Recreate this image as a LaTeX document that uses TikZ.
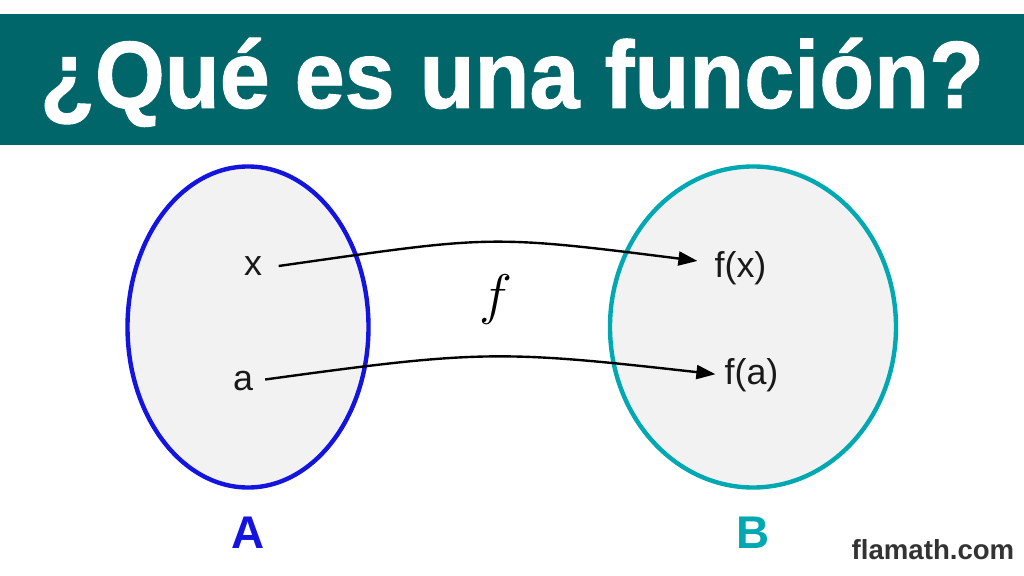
\documentclass[tikz,border=0pt]{standalone}
\usepackage{fontspec}
\setmainfont{Liberation Sans}
\newfontfamily\titlefont{Liberation Sans}[FakeStretch=0.94,FakeBold=1]
\definecolor{banner}{HTML}{00666A}
\definecolor{setfill}{HTML}{F2F2F2}
\definecolor{setblue}{HTML}{1414E0}
\definecolor{setteal}{HTML}{00A8B2}
\definecolor{wm}{HTML}{333333}
\usetikzlibrary{shapes.geometric,arrows.meta}
\tikzset{
 setA/.style={ellipse,draw=setblue,fill=setfill,line width=4.4pt,minimum width=241bp,minimum height=321bp,inner sep=0},
 setB/.style={ellipse,draw=setteal,fill=setfill,line width=4.4pt,minimum width=286bp,minimum height=321bp,inner sep=0},
 elem/.style={inner sep=0,text=black!90,font=\fontsize{36}{36}\selectfont},
 setname/.style={inner sep=0,anchor=base,font=\fontsize{46}{46}\selectfont\bfseries},
 mapto/.style={draw=black,line width=2.4pt,-{Triangle[length=19bp,width=14bp]}},
}
\begin{document}
\begin{tikzpicture}[x=1bp,y=-1bp]
\useasboundingbox (0,0) rectangle (1024,576);
\fill[white] (0,0) rectangle (1024,576);
\node[fill=banner,minimum width=1024bp,minimum height=131bp,inner sep=0,outer sep=0] (banner) at (512,79.5) {};
\node[inner sep=0,anchor=base,text=white,font=\fontsize{96}{96}\titlefont\bfseries] (title) at (512,108) {¿Qué es una función?};
\node[setA] (A) at (248,327) {};
\node[setB] (B) at (753,327) {};
\node[elem] (x) at (253,266) {x};
\node[elem] (a) at (243,381.5) {a};
\node[elem,anchor=base] (fx) at (740.5,277.5) {f(x)};
\node[elem,anchor=base] (fa) at (751.5,384.5) {f(a)};
\node[inner sep=0,scale=2.25,font=\fontsize{25}{25}\selectfont] (f) at (496,300) {$f$};
\draw[mapto] ([xshift=16.5bp]x.east) .. controls (490,236) and (485,234) .. ([xshift=-17bp,yshift=7.3bp]fx.west);
\draw[mapto] ([xshift=12bp,yshift=2bp]a.east) .. controls (480,350) and (500,350) .. ([xshift=-9bp,yshift=1bp]fa.west);
\node[setname,text=setblue] (nA) at (248,548) {A};
\node[setname,text=setteal] (nB) at (753,548) {B};
\node[inner sep=0,anchor=base,text=wm,font=\fontsize{27.7}{28}\selectfont\bfseries] (wm) at (933,559) {flamath.com};
\end{tikzpicture}
\end{document}
